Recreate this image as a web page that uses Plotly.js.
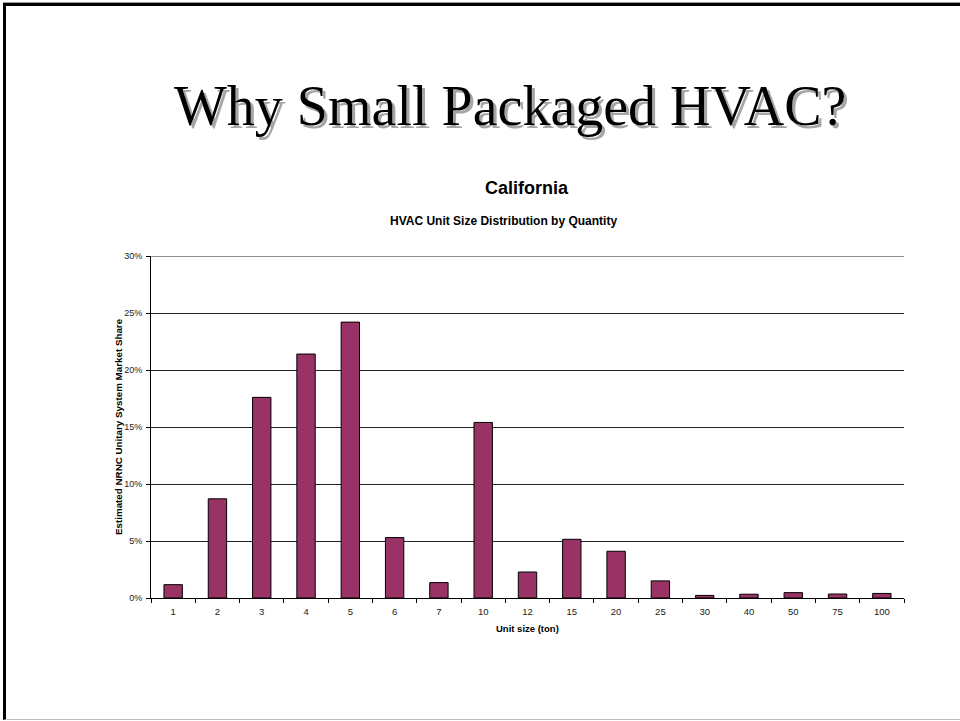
<!DOCTYPE html>
<html>
<head>
<meta charset="utf-8">
<script src="https://cdn.plot.ly/plotly-3.0.1.min.js"></script>
<style>
  html, body { margin: 0; padding: 0; background: #fff; }
  #wrap { position: relative; width: 960px; height: 721px; overflow: hidden; }
  #chart { position: absolute; left: 0; top: 0; width: 960px; height: 721px; }
  #frame { position: absolute; left: 3px; top: 3px; width: 970px; height: 713px;
           border-top: 3px solid #000; border-left: 3px solid #000; border-bottom: 1px solid #bdbdbd;
           pointer-events: none; box-shadow: 0 -1px 0 #9a9a9a; }
</style>
</head>
<body>
<div id="wrap">
  <div id="chart"></div>
  <div id="frame"></div>
</div>
<script>
// Data
const slideTitle = "Why Small Packaged HVAC?";
const chartTitle = "California";
const chartSubtitle = "HVAC Unit Size Distribution by Quantity";
const xAxisTitle = "Unit size (ton)";
const yAxisTitle = "Estimated NRNC Unitary System Market Share";
const unitSizes = ["1", "2", "3", "4", "5", "6", "7", "10", "12", "15", "20", "25", "30", "40", "50", "75", "100"];
const marketShare = [1.17, 8.7, 17.6, 21.4, 24.2, 5.3, 1.35, 15.4, 2.28, 5.15, 4.1, 1.5, 0.23, 0.33, 0.47, 0.35, 0.4];
const yTickVals = [0, 5, 10, 15, 20, 25, 30];
const yTickText = ["0%", "5%", "10%", "15%", "20%", "25%", "30%"];
const yMax = 30;

const SANS = "Liberation Sans, Arial, sans-serif";
const SERIF = "Liberation Serif, Times New Roman, serif";

const trace = {
  type: "bar",
  x: unitSizes,
  y: marketShare,
  marker: { color: "#993366", line: { color: "#000000", width: 1 } },
  hoverinfo: "x+y"
};

const layout = {
  width: 960,
  height: 721,
  margin: { l: 151, r: 56, t: 256, b: 123 },
  paper_bgcolor: "rgba(0,0,0,0)",
  plot_bgcolor: "rgba(0,0,0,0)",
  showlegend: false,
  bargap: 0.585,
  font: { family: SANS, size: 9, color: "#000" },
  xaxis: {
    type: "category",
    showgrid: false,
    showline: true,
    linecolor: "#000",
    linewidth: 1,
    ticks: "outside",
    tickson: "boundaries",
    ticklen: 4,
    tickcolor: "#000",
    ticklabelstandoff: 5,
    tickfont: { family: SANS, size: 9.5, color: "#222" },
    zeroline: false
  },
  yaxis: {
    range: [0, yMax],
    tickvals: yTickVals,
    ticktext: yTickText,
    showgrid: true,
    gridcolor: "#222",
    gridwidth: 1,
    showline: true,
    linecolor: "#000",
    linewidth: 1,
    ticks: "outside",
    ticklen: 4,
    tickcolor: "#000",
    ticklabelstandoff: 2,
    tickfont: { family: SANS, size: 9, color: "#222" },
    zeroline: false
  },
  shapes: [
    // top gridline (at the maximum of the value axis)
    { type: "line", xref: "paper", x0: 0, x1: 1, yref: "y", y0: yMax, y1: yMax,
      line: { color: "#222", width: 1 }, layer: "below" }
  ],
  annotations: [
    { text: slideTitle, xref: "paper", yref: "paper", x: 0.5, y: 1.4357, xshift: -18, yshift: 1,
      xanchor: "center", yanchor: "middle", showarrow: false,
      font: { family: SERIF, size: 56, color: "#000" } },
    { text: "<b>" + chartTitle + "</b>", xref: "paper", yref: "paper", x: 0.5, y: 1.1988, xshift: -1,
      xanchor: "center", yanchor: "middle", showarrow: false,
      font: { family: SANS, size: 18, color: "#000" } },
    { text: "<b>" + chartSubtitle + "</b>", xref: "paper", yref: "paper", x: 0.5, y: 1.1023, xshift: -24,
      xanchor: "center", yanchor: "middle", showarrow: false,
      font: { family: SANS, size: 12, color: "#000" } },
    { text: "<b>" + xAxisTitle + "</b>", xref: "paper", yref: "paper", x: 0.5, y: -0.0906,
      xanchor: "center", yanchor: "middle", showarrow: false,
      font: { family: SANS, size: 9.5, color: "#000" } },
    { text: "<b>" + yAxisTitle + "</b>", xref: "paper", yref: "paper", x: -0.0438, y: 0.5,
      xanchor: "center", yanchor: "middle", showarrow: false, textangle: -90,
      font: { family: SANS, size: 9.8, color: "#000" } }
  ]
};

Plotly.newPlot("chart", [trace], layout, { displayModeBar: false, staticPlot: true }).then(function (gd) {
  // Soft drop shadow on the slide title, as in the original slide
  const svg = gd.querySelector("svg.main-svg");
  const NS = "http://www.w3.org/2000/svg";
  let defs = svg.querySelector("defs");
  if (!defs) { defs = document.createElementNS(NS, "defs"); svg.insertBefore(defs, svg.firstChild); }
  const filter = document.createElementNS(NS, "filter");
  filter.setAttribute("id", "titleShadow");
  filter.setAttribute("x", "-10%"); filter.setAttribute("y", "-30%");
  filter.setAttribute("width", "130%"); filter.setAttribute("height", "170%");
  const ds = document.createElementNS(NS, "feDropShadow");
  ds.setAttribute("dx", "3"); ds.setAttribute("dy", "3"); ds.setAttribute("stdDeviation", "0.6");
  ds.setAttribute("flood-color", "#9c9c9c"); ds.setAttribute("flood-opacity", "0.9");
  filter.appendChild(ds);
  defs.appendChild(filter);
  const annTexts = gd.querySelectorAll(".annotation-text");
  annTexts.forEach(function (t) {
    if (t.textContent === slideTitle) t.setAttribute("filter", "url(#titleShadow)");
  });
});
</script>
</body>
</html>
